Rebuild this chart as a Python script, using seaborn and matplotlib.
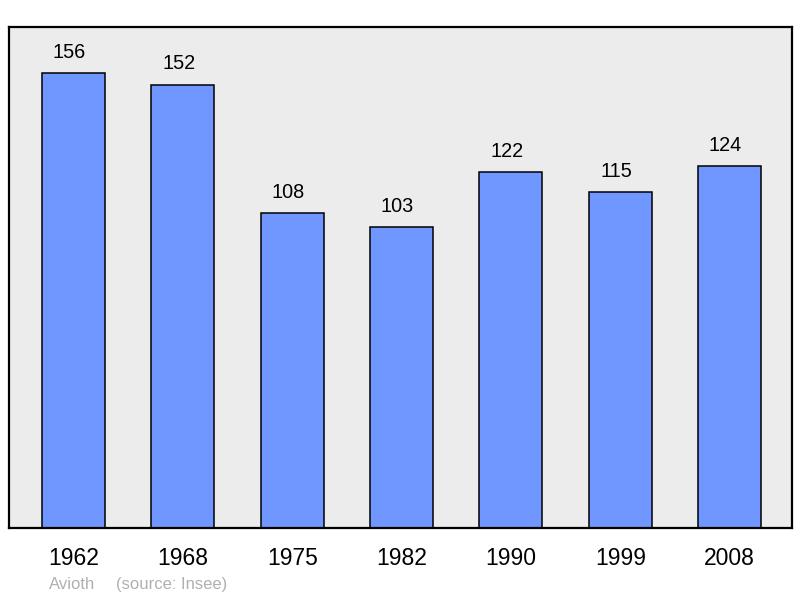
import matplotlib
matplotlib.use("Agg")
import matplotlib.pyplot as plt
import seaborn as sns
import pandas as pd

# population of Avioth by census year
years = ["1962", "1968", "1975", "1982", "1990", "1999", "2008"]
population = [156, 152, 108, 103, 122, 115, 124]

df = pd.DataFrame({"year": years, "pop": population})

sns.set_style("white")
plt.rcParams["font.family"] = ["Liberation Sans", "DejaVu Sans"]

fig = plt.figure(figsize=(8, 5.98), dpi=100)
ax = fig.add_axes([0.01125, 0.117, 0.97875, 0.8378])
ax.set_facecolor("#ececec")

sns.barplot(data=df, x="year", y="pop", color="#7097ff", saturation=1,
            edgecolor="black", linewidth=1.1, width=0.576, ax=ax)

for i, v in enumerate(population):
    ax.annotate(str(v), (i, v), xytext=(-3, 11), textcoords="offset points",
                ha="center", va="baseline", fontsize=14.3, color="black")

ax.set_xlim(-0.59, 6.57)
ax.set_ylim(0, 171.7)
ax.set_xlabel("")
ax.set_ylabel("")
ax.set_yticks([])
ax.tick_params(axis="x", length=0, pad=14, labelsize=16.5, labelcolor="black")
for s in ax.spines.values():
    s.set_visible(True)
    s.set_color("black")
    s.set_linewidth(1.6)

fig.text(0.061, 0.015, "Avioth", color="#b0b0b0", fontsize=12)
fig.text(0.145, 0.015, "(source: Insee)", color="#b0b0b0", fontsize=12)

fig.savefig("out.png", dpi=100)
